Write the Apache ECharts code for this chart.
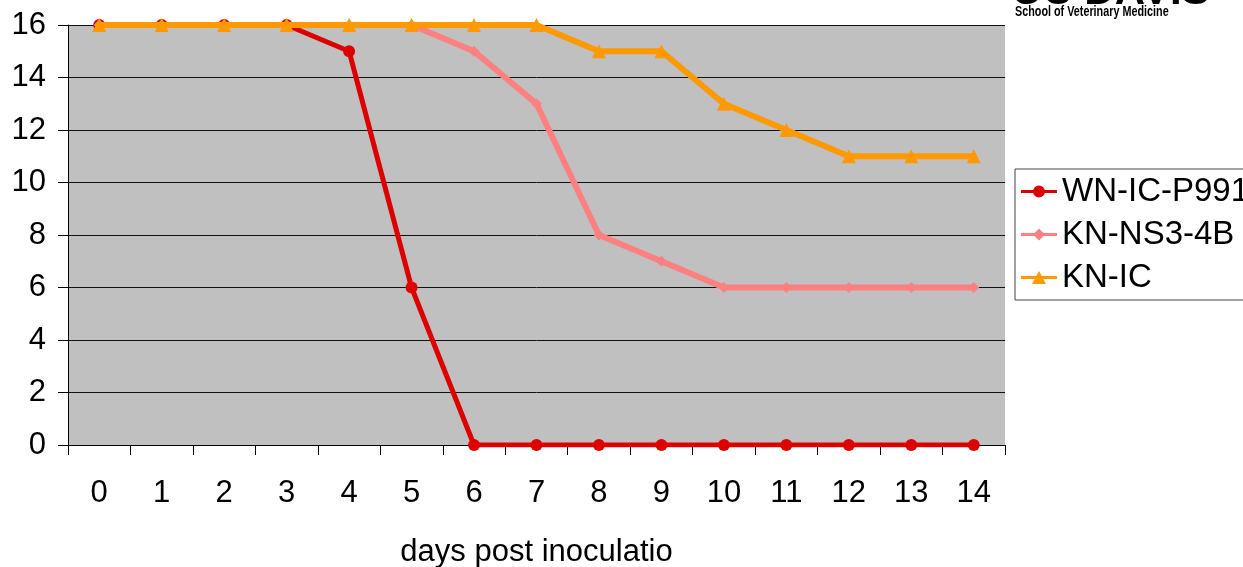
<!DOCTYPE html>
<html>
<head>
<meta charset="utf-8">
<script src="https://cdn.jsdelivr.net/npm/echarts@6/dist/echarts.min.js"></script>
<style>
  html, body { margin: 0; padding: 0; background: #fff; }
  #chart { width: 1243px; height: 567px; }
</style>
</head>
<body>
<div id="chart"></div>
<script>
// Days after inoculation and surviving animals per group
const days = ['0','1','2','3','4','5','6','7','8','9','10','11','12','13','14'];
const wnIcP991 = [16,16,16,16,15,6,0,0,0,0,0,0,0,0,0];
const knNs34b  = [16,16,16,16,16,16,15,13,8,7,6,6,6,6,6];
const knIc     = [16,16,16,16,16,16,16,16,15,15,13,12,11,11,11];
const yTicks   = [0,2,4,6,8,10,12,14,16];

const font = "'Liberation Sans', Arial, sans-serif";

// Legend keys: a thick line segment with the series marker in the middle
const iconCircle   = 'path://M0,5.5H36V8.5H0Z M18,1 A6,6 0 1,1 18,13 A6,6 0 1,1 18,1Z';
const iconDiamond  = 'path://M0,5.5H36V8.5H0Z M18,1 L24,7 L18,13 L12,7Z';
const iconTriangle = 'path://M0,5.5H36V8.5H0Z M18,0.5 L25,13.5 L11,13.5Z';

const chart = echarts.init(document.getElementById('chart'), null, { renderer: 'canvas' });

chart.setOption({
  animation: false,
  backgroundColor: '#ffffff',
  grid: {
    left: 68, right: 238, top: 25, bottom: 122,
    outerBoundsMode: 'none',
    containLabel: false,
    show: true, backgroundColor: '#c0c0c0', borderWidth: 0
  },
  legend: {
    orient: 'vertical',
    left: 1015, top: 169,
    padding: [6, 40, 6, 6],
    itemGap: 10,
    itemWidth: 36, itemHeight: 14,
    backgroundColor: '#ffffff',
    borderColor: '#444', borderWidth: 1,
    textStyle: { fontFamily: font, fontSize: 33, color: '#000' },
    data: [
      { name: 'WN-IC-P991', icon: iconCircle },
      { name: 'KN-NS3-4B', icon: iconDiamond },
      { name: 'KN-IC', icon: iconTriangle }
    ]
  },
  xAxis: {
    type: 'category',
    data: days,
    boundaryGap: true,
    name: 'days post inoculatio',
    nameLocation: 'middle',
    nameGap: 92,
    nameTextStyle: { fontFamily: font, fontSize: 31, color: '#000' },
    axisLine: { lineStyle: { color: '#000', width: 1 } },
    axisTick: { show: true, length: 10, alignWithLabel: false, lineStyle: { color: '#000' } },
    axisLabel: { fontFamily: font, fontSize: 31, color: '#000', margin: 33 },
    splitLine: { show: false }
  },
  yAxis: {
    type: 'value',
    min: yTicks[0], max: yTicks[yTicks.length - 1], interval: 2,
    axisLine: { show: true, lineStyle: { color: '#000', width: 1 } },
    axisTick: { show: true, length: 10, lineStyle: { color: '#000' } },
    axisLabel: { fontFamily: font, fontSize: 31, color: '#000', margin: 22 },
    splitLine: { show: true, lineStyle: { color: '#111', width: 1 } }
  },
  graphic: [
    {
      type: 'text', x: 1012, y: -29, silent: true,
      style: { text: 'UC DAVIS', fontFamily: font, fontWeight: 'bold', fontSize: 42, fill: '#000' }
    },
    {
      type: 'text', x: 1015, y: 4, scaleX: 0.72, silent: true,
      style: { text: 'School of Veterinary Medicine', fontFamily: font, fontWeight: 'bold', fontSize: 15, fill: '#000' }
    }
  ],
  series: [
    {
      name: 'WN-IC-P991', type: 'line', data: wnIcP991,
      symbol: 'circle', symbolSize: 12,
      lineStyle: { color: '#dd0000', width: 5 },
      itemStyle: { color: '#dd0000' },
      z: 2
    },
    {
      name: 'KN-NS3-4B', type: 'line', data: knNs34b,
      symbol: 'diamond', symbolSize: 11,
      lineStyle: { color: '#ff8080', width: 6 },
      itemStyle: { color: '#ff8080' },
      z: 3
    },
    {
      name: 'KN-IC', type: 'line', data: knIc,
      symbol: 'triangle', symbolSize: 14,
      lineStyle: { color: '#ff9900', width: 6 },
      itemStyle: { color: '#ff9900' },
      z: 4
    }
  ]
});
</script>
</body>
</html>
